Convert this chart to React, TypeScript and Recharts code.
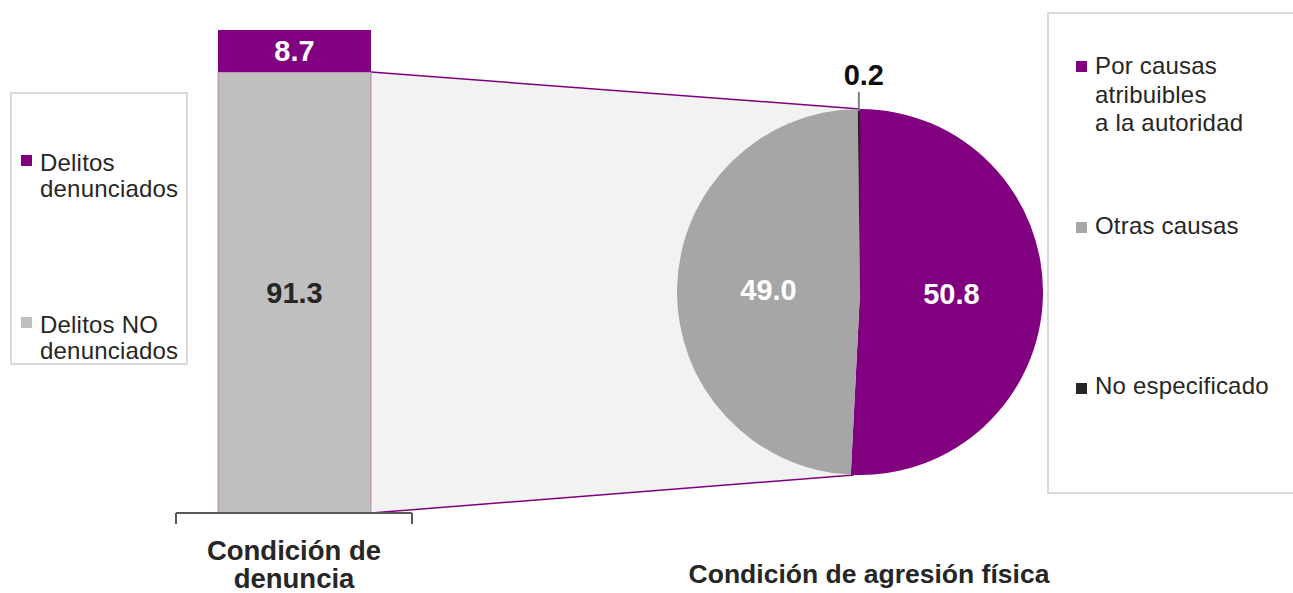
import { BarChart, Bar, XAxis, YAxis, LabelList, PieChart, Pie, Cell } from "recharts";

// Condición de denuncia (stacked bar)
const denunciaCategories = ["Condición de denuncia"];
const denunciadosValues = [8.7];
const noDenunciadosValues = [91.3];
const denunciaLegend = ["Delitos\ndenunciados", "Delitos NO\ndenunciados"];

// Condición de agresión física (pie)
const agresionNames = ["Por causas\natribuibles\na la autoridad", "Otras causas", "No especificado"];
const agresionValues = [50.8, 49.0, 0.2];
const agresionTitle = "Condición de agresión física";

const PURPLE = "#800080";
const BAR_GREY = "#bfbfbf";
const PIE_COLORS = [PURPLE, "#a6a6a6", "#262626"];
const TEXT = "#262626";
const FONT = "'Liberation Sans', Arial, sans-serif";

const W = 1293;
const H = 593;
const PIE_CX = 860;
const PIE_CY = 292;
const PIE_R = 183;
const RADIAN = Math.PI / 180;

const barData = denunciaCategories.map((name, i) => ({
  name,
  denunciados: denunciadosValues[i],
  noDenunciados: noDenunciadosValues[i],
}));

const pieData = agresionNames.map((name, i) => ({ name, value: agresionValues[i] }));

// grey segment + the light "zoom" band that runs to the pie
const ConnectorBar = (props: any) => {
  const { x, y, width, height } = props;
  const right = x + width;
  return (
    <g>
      <polygon
        points={`${right},${y} ${PIE_CX},${PIE_CY - PIE_R} ${PIE_CX - 6},${PIE_CY + PIE_R} ${right},${y + height}`}
        fill="#f2f2f2"
      />
      <line x1={right} y1={y} x2={PIE_CX} y2={PIE_CY - PIE_R} stroke={PURPLE} strokeWidth={1.5} />
      <line x1={right} y1={y + height} x2={PIE_CX - 6} y2={PIE_CY + PIE_R} stroke={PURPLE} strokeWidth={1.5} />
      <rect x={x} y={y} width={width} height={height} fill={BAR_GREY} stroke="#a050a0" strokeOpacity={0.6} strokeWidth={1} />
    </g>
  );
};

const DenunciaTick = (props: any) => {
  const { x, y, payload } = props;
  const half = payload && payload.offset > 0 ? payload.offset : 118;
  const label: string = payload.value;
  const cut = label.lastIndexOf(" ");
  return (
    <g>
      <line x1={x - half} y1={y} x2={x - half} y2={y + 11} stroke="#595959" strokeWidth={2} />
      <line x1={x + half} y1={y} x2={x + half} y2={y + 11} stroke="#595959" strokeWidth={2} />
      <text x={x} y={y + 47} textAnchor="middle" fontSize={27.5} fontWeight="bold" fill={TEXT} fontFamily={FONT}>
        <tspan x={x}>{label.slice(0, cut)}</tspan>
        <tspan x={x} y={y + 75}>{label.slice(cut + 1)}</tspan>
      </text>
    </g>
  );
};

const renderPieLabel = (props: any) => {
  const { cx, cy, midAngle, outerRadius, index, value } = props;
  if (index === 2) {
    const px = cx + outerRadius * Math.cos(-midAngle * RADIAN);
    const py = cy + outerRadius * Math.sin(-midAngle * RADIAN);
    return (
      <g>
        <line x1={px} y1={py + 2} x2={px} y2={py - 17} stroke="#7f7f7f" strokeWidth={2} />
        <text x={px + 5} y={py - 24} textAnchor="middle" fontSize={29} fontWeight="bold" fill="#0d0d0d" fontFamily={FONT}>
          {value.toFixed(1)}
        </text>
      </g>
    );
  }
  const r = outerRadius * 0.5;
  const lx = cx + r * Math.cos(-midAngle * RADIAN);
  const ly = cy + r * Math.sin(-midAngle * RADIAN);
  return (
    <text x={lx} y={ly} textAnchor="middle" dominantBaseline="central" fontSize={29} fontWeight="bold" fill="#fff" fontFamily={FONT}>
      {value.toFixed(1)}
    </text>
  );
};

const legendText = {
  fontFamily: FONT,
  fontSize: 24,
  letterSpacing: 0.2,
  color: TEXT,
  whiteSpace: "pre-line" as const,
  position: "absolute" as const,
};

const LegendItem = ({ color, text, left, top, lineHeight, square }: any) => (
  <>
    <div style={{ position: "absolute", left: square[0], top: square[1], width: 11, height: 11, background: color }} />
    <div style={{ ...legendText, left, top, lineHeight: `${lineHeight}px` }}>{text}</div>
  </>
);

const App = () => {
  return (
    <div style={{ position: "absolute", left: 0, top: 0, width: W, height: H, background: "#fff", overflow: "hidden", fontFamily: FONT }}>
      <div style={{ position: "absolute", left: 0, top: 0 }}>
        <BarChart width={W} height={H} data={barData} margin={{ top: 30, right: W - 412, bottom: 0, left: 176 }}>
          <YAxis hide domain={[0, 100]} />
          <XAxis
            dataKey="name"
            height={80}
            tickLine={false}
            tickSize={0}
            tickMargin={0}
            axisLine={{ stroke: "#595959", strokeWidth: 2 }}
            tick={<DenunciaTick />}
            interval={0}
          />
          <Bar dataKey="noDenunciados" stackId="d" barSize={153} fill={BAR_GREY} shape={<ConnectorBar />} isAnimationActive={false}>
            <LabelList dataKey="noDenunciados" position="center" fill={TEXT} fontSize={29} fontWeight="bold" fontFamily={FONT} formatter={(v: any) => Number(v).toFixed(1)} />
          </Bar>
          <Bar dataKey="denunciados" stackId="d" barSize={153} fill={PURPLE} isAnimationActive={false}>
            <LabelList dataKey="denunciados" position="center" fill="#fff" fontSize={29} fontWeight="bold" fontFamily={FONT} formatter={(v: any) => Number(v).toFixed(1)} />
          </Bar>
        </BarChart>
      </div>

      <div style={{ position: "absolute", left: 0, top: 0 }}>
        <PieChart width={W} height={H} margin={{ top: 0, right: 0, bottom: 0, left: 0 }}>
          <Pie
            data={pieData}
            dataKey="value"
            nameKey="name"
            cx={PIE_CX}
            cy={PIE_CY}
            outerRadius={PIE_R}
            startAngle={90}
            endAngle={-270}
            stroke="none"
            label={renderPieLabel}
            labelLine={false}
            isAnimationActive={false}
          >
            {pieData.map((_, i) => (
              <Cell key={`cell-${i}`} fill={PIE_COLORS[i]} />
            ))}
          </Pie>
        </PieChart>
      </div>

      {/* left legend */}
      <div style={{ position: "absolute", left: 10, top: 92, width: 178, height: 273, border: "2px solid #d9d9d9", boxSizing: "border-box" }} />
      <LegendItem color={PURPLE} text={denunciaLegend[0]} left={40} top={150} lineHeight={26} square={[21, 155]} />
      <LegendItem color={BAR_GREY} text={denunciaLegend[1]} left={40} top={312} lineHeight={26} square={[21, 317]} />

      {/* right legend */}
      <div style={{ position: "absolute", left: 1047, top: 12, width: 270, height: 482, border: "2px solid #d9d9d9", boxSizing: "border-box" }} />
      {agresionNames.map((name, i) => (
        <LegendItem
          key={name}
          color={PIE_COLORS[i]}
          text={name}
          left={1095}
          top={[52, 212, 372][i]}
          lineHeight={28.5}
          square={[1076, [61, 222, 383][i]]}
        />
      ))}

      <div
        style={{
          position: "absolute",
          left: 869 - 300,
          width: 600,
          top: 559,
          textAlign: "center",
          fontSize: 26.5,
          lineHeight: "30px",
          fontWeight: "bold",
          color: TEXT,
          whiteSpace: "nowrap",
        }}
      >
        {agresionTitle}
      </div>
    </div>
  );
};

export default App;
